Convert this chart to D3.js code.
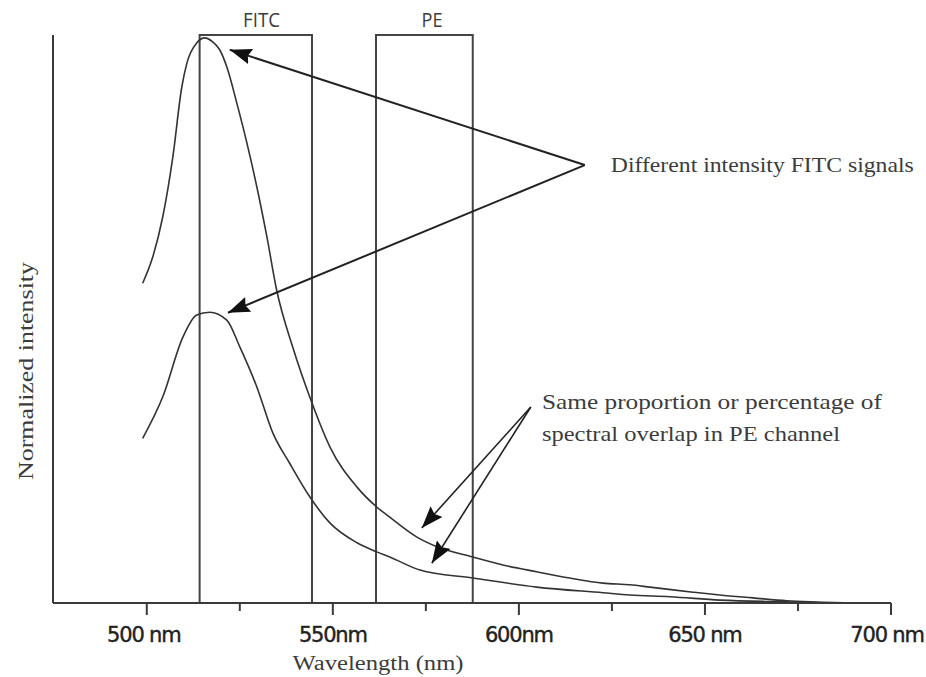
<!DOCTYPE html>
<html>
<head>
<meta charset="utf-8">
<script src="https://cdn.jsdelivr.net/npm/d3@7/dist/d3.min.js"></script>
<style>
  html, body { margin: 0; padding: 0; background: #fff; }
  svg { display: block; }
</style>
</head>
<body>
<svg id="chart" width="926" height="677"></svg>
<script>
// ---------------- data ----------------
const brightWavelength = [498.9, 501.6, 504.3, 507.0, 509.4, 510.8, 513.4, 515.6, 517.7, 519.6, 521.5, 524.2, 526.9, 529.6, 532.3, 534.9, 539.2, 544.4, 549.2, 556.5, 561.8, 565.3, 572.6, 578.0, 587.6, 595.7, 604.8, 613.7, 622.6, 629.8, 635.2, 646.8, 654.0, 662.9, 672.0, 678.2, 690.0, 700.0];
const brightIntensity  = [0.563, 0.609, 0.680, 0.785, 0.908, 0.951, 0.986, 0.995, 0.988, 0.974, 0.944, 0.880, 0.810, 0.732, 0.644, 0.551, 0.451, 0.352, 0.275, 0.204, 0.169, 0.151, 0.116, 0.099, 0.081, 0.067, 0.055, 0.044, 0.035, 0.032, 0.028, 0.019, 0.014, 0.009, 0.004, 0.002, 0.0, 0.0];
const dimWavelength = [498.9, 504.3, 509.7, 513.4, 516.9, 521.5, 525.0, 529.6, 533.9, 538.4, 543.8, 549.2, 556.5, 561.8, 565.3, 573.4, 587.6, 604.8, 622.6, 629.8, 640.6, 654.0, 672.0, 685.0, 700.0];
const dimIntensity  = [0.290, 0.363, 0.468, 0.507, 0.512, 0.498, 0.451, 0.380, 0.299, 0.246, 0.187, 0.141, 0.106, 0.090, 0.081, 0.058, 0.044, 0.028, 0.018, 0.014, 0.011, 0.005, 0.002, 0.0, 0.0];

const channelNames = ["FITC", "PE"];
const channelStart = [514.2, 561.6];
const channelEnd   = [544.4, 587.6];

const majorTicks = [500, 550, 600, 650, 700];
const majorTickLabels = ["500 nm", "550nm", "600nm", "650 nm", "700 nm"];
const minorTicks = [525, 575, 625, 675];

const xDomain = [474.8, 700];
const yDomain = [0, 1];

// annotations (data units: nm, normalized intensity)
const annoText1 = ["Different intensity FITC signals"];
const anno1From = [617.7, 0.771];
const anno1To   = [[522.3, 0.974], [521.8, 0.511]];
const anno1TextPos = [624.7, 0.759];

const annoText2 = ["Same proportion or percentage of", "spectral overlap in PE channel"];
const anno2From = [603.2, 0.345];
const anno2To   = [[573.9, 0.132], [576.6, 0.070]];
const anno2TextPos = [[606.2, 0.341], [606.2, 0.286]];

// ---------------- drawing ----------------
const svg = d3.select("#chart");
const ink = "#3a3a3a";
const textInk = "#3c3c3c";

const x = d3.scaleLinear().domain(xDomain).range([53, 891]);
const y = d3.scaleLinear().domain(yDomain).range([603, 35]);

const defs = svg.append("defs");
defs.append("marker")
  .attr("id", "head")
  .attr("viewBox", "0 0 22 16")
  .attr("refX", 22).attr("refY", 8)
  .attr("markerWidth", 22).attr("markerHeight", 16)
  .attr("markerUnits", "userSpaceOnUse")
  .attr("orient", "auto")
  .append("path")
  .attr("d", "M22,8 L0,0 L3,8 L0,16 Z")
  .attr("fill", "#111");

// channel boxes
const boxes = svg.append("g");
channelNames.forEach((name, i) => {
  boxes.append("path")
    .attr("d", `M${x(channelStart[i])},${y(0)} L${x(channelStart[i])},${y(1)} L${x(channelEnd[i])},${y(1)} L${x(channelEnd[i])},${y(0)}`)
    .attr("fill", "none").attr("stroke", "#444").attr("stroke-width", 2);
});
boxes.append("text").attr("x", x(channelStart[0]) + 62).attr("y", 27)
  .attr("text-anchor", "middle")
  .attr("font-family", "'Liberation Sans Narrow', 'Open Sans', sans-serif")
  .attr("font-size", 20).attr("fill", textInk)
  .attr("textLength", 37).attr("lengthAdjust", "spacingAndGlyphs")
  .text(channelNames[0]);
boxes.append("text").attr("x", x(channelStart[1]) + 56).attr("y", 27)
  .attr("text-anchor", "middle")
  .attr("font-family", "'Liberation Sans Narrow', 'Open Sans', sans-serif")
  .attr("font-size", 20).attr("fill", textInk)
  .attr("textLength", 21).attr("lengthAdjust", "spacingAndGlyphs")
  .text(channelNames[1]);

// curves
const line = d3.line().x(d => x(d[0])).y(d => y(d[1])).curve(d3.curveMonotoneX);
const bright = brightWavelength.map((w, i) => [w, brightIntensity[i]]);
const dim = dimWavelength.map((w, i) => [w, dimIntensity[i]]);
[bright, dim].forEach(s => {
  svg.append("path").datum(s).attr("d", line)
    .attr("fill", "none").attr("stroke", "#333").attr("stroke-width", 1.6);
});

// axes
const xAxis = svg.append("g").attr("transform", `translate(0,${y(0)})`);
xAxis.append("line").attr("x1", x(xDomain[0])).attr("x2", x(xDomain[1]))
  .attr("y1", 0).attr("y2", 0).attr("stroke", ink).attr("stroke-width", 2);
xAxis.selectAll(".major").data(majorTicks).enter().append("line")
  .attr("x1", d => x(d)).attr("x2", d => x(d)).attr("y1", 0).attr("y2", 12)
  .attr("stroke", ink).attr("stroke-width", 2);
xAxis.selectAll(".minor").data(minorTicks).enter().append("line")
  .attr("x1", d => x(d)).attr("x2", d => x(d)).attr("y1", 0).attr("y2", 8)
  .attr("stroke", ink).attr("stroke-width", 2);
xAxis.selectAll(".lbl").data(majorTicks).enter().append("text")
  .attr("x", (d, i) => x(d) - (i === 0 ? 3 : (i === 4 ? 4 : 0)))
  .attr("y", 39)
  .attr("text-anchor", "middle")
  .attr("font-family", "'DejaVu Sans', sans-serif")
  .attr("font-size", 21).attr("letter-spacing", -1.2)
  .attr("fill", "#222").attr("stroke", "#222").attr("stroke-width", 0.4)
  .text((d, i) => majorTickLabels[i]);

svg.append("line").attr("x1", x(xDomain[0])).attr("x2", x(xDomain[0]))
  .attr("y1", y(0)).attr("y2", y(1)).attr("stroke", ink).attr("stroke-width", 2);

svg.append("text").attr("x", 378).attr("y", 670)
  .attr("text-anchor", "middle")
  .attr("font-family", "'Liberation Serif', 'Times New Roman', serif")
  .attr("font-size", 20).attr("fill", textInk)
  .attr("textLength", 171).attr("lengthAdjust", "spacingAndGlyphs")
  .text("Wavelength (nm)");

svg.append("text").attr("transform", "translate(33,371) rotate(-90)")
  .attr("text-anchor", "middle")
  .attr("font-family", "'Liberation Serif', 'Times New Roman', serif")
  .attr("font-size", 21).attr("fill", textInk)
  .attr("textLength", 218).attr("lengthAdjust", "spacingAndGlyphs")
  .text("Normalized intensity");

// annotations
const ann = svg.append("g");
anno1To.forEach(t => {
  ann.append("line")
    .attr("x1", x(anno1From[0])).attr("y1", y(anno1From[1]))
    .attr("x2", x(t[0])).attr("y2", y(t[1]))
    .attr("stroke", "#222").attr("stroke-width", 2)
    .attr("marker-end", "url(#head)");
});
anno2To.forEach(t => {
  ann.append("line")
    .attr("x1", x(anno2From[0])).attr("y1", y(anno2From[1]))
    .attr("x2", x(t[0])).attr("y2", y(t[1]))
    .attr("stroke", "#222").attr("stroke-width", 1.6)
    .attr("marker-end", "url(#head)");
});

ann.append("text").attr("x", x(anno1TextPos[0])).attr("y", y(anno1TextPos[1]))
  .attr("font-family", "'Liberation Serif', 'Times New Roman', serif")
  .attr("font-size", 21).attr("fill", textInk)
  .attr("textLength", 303).attr("lengthAdjust", "spacingAndGlyphs")
  .text(annoText1[0]);
const widths2 = [340, 298];
annoText2.forEach((t, i) => {
  ann.append("text").attr("x", x(anno2TextPos[i][0])).attr("y", y(anno2TextPos[i][1]))
    .attr("font-family", "'Liberation Serif', 'Times New Roman', serif")
    .attr("font-size", 21).attr("fill", textInk)
    .attr("textLength", widths2[i]).attr("lengthAdjust", "spacingAndGlyphs")
    .text(t);
});
</script>
</body>
</html>
